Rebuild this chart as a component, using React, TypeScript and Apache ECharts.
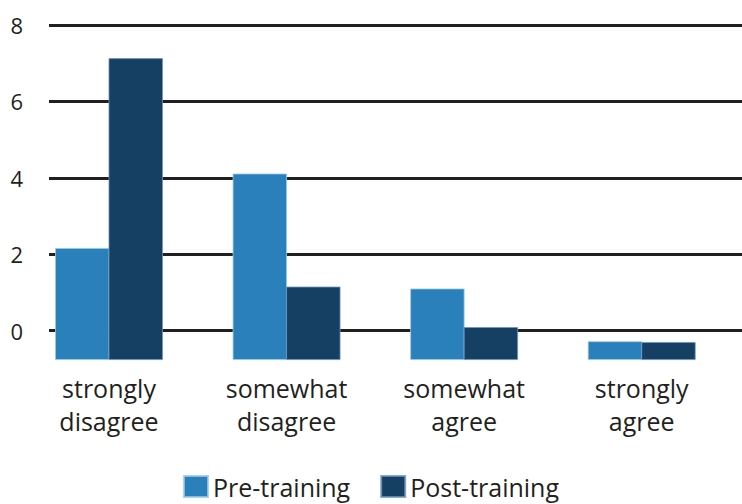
import React, { useEffect, useRef } from "react";
import * as echarts from "echarts";

const categories = ["strongly\ndisagree", "somewhat\ndisagree", "somewhat\nagree", "strongly\nagree"];
const preTraining = [2.15, 4.1, 1.09, -0.29];
const postTraining = [7.12, 1.14, 0.08, -0.31];
const gridTicks = [-2, 0, 2, 4, 6, 8];
const axisFloor = -0.76;

const FONT = "Open Sans";
const TEXT = "#231f20";
const BAR_W = 53.5;

function barSeries(name: string, values: number[], idx: number, color: string, border: string) {
  return {
    name,
    type: "custom",
    xAxisIndex: 1,
    yAxisIndex: 1,
    encode: { x: 0, y: 1 },
    data: values.map((v, i) => [i, v]),
    itemStyle: { color, borderColor: border, borderWidth: 1 },
    renderItem: (params: any, api: any) => {
      const cat = api.value(0);
      const v = api.value(1);
      const top = api.coord([cat, v]);
      const bottom = api.coord([cat, axisFloor]);
      const x = idx === 0 ? top[0] - BAR_W : top[0];
      return {
        type: "rect",
        shape: { x, y: top[1], width: BAR_W, height: bottom[1] - top[1] },
        style: api.style(),
      };
    },
  };
}

export default function App() {
  const ref = useRef<HTMLDivElement>(null);
  useEffect(() => {
    if (!ref.current) return;
    const chart = echarts.init(ref.current, null, { renderer: "svg" });
    chart.setOption({
      animation: false,
      textStyle: { fontFamily: FONT, color: TEXT },
      legend: {
        bottom: 0,
        left: "center",
        icon: "rect",
        itemWidth: 24,
        itemHeight: 21,
        itemGap: 30,
        textStyle: { fontSize: 25, color: TEXT, fontFamily: FONT },
        data: ["Pre-training", "Post-training"],
      },
      grid: [
        { left: 49, right: 0, top: 25, height: 382 },
        { left: 20.2, right: 11.5, top: 25, height: 334.6 },
      ],
      xAxis: [
        { gridIndex: 0, type: "category", data: categories, show: false },
        {
          gridIndex: 1,
          type: "category",
          data: categories,
          axisLine: { show: false },
          axisTick: { show: false },
          axisLabel: {
            fontSize: 25,
            lineHeight: 33,
            color: TEXT,
            fontFamily: FONT,
            margin: 12,
          },
        },
      ],
      yAxis: [
        {
          gridIndex: 0,
          type: "value",
          min: gridTicks[0],
          max: gridTicks[gridTicks.length - 1],
          interval: 2,
          axisLine: { show: false },
          axisTick: { show: false },
          axisLabel: {
            fontSize: 22,
            color: TEXT,
            fontFamily: FONT,
            margin: 26,
            formatter: (v: number) => (v < 0 ? "" : String(v)),
          },
          splitLine: {
            show: true,
            lineStyle: {
              width: 3,
              color: gridTicks.map((t) => (t < 0 ? "rgba(0,0,0,0)" : TEXT)),
            },
          },
        },
        {
          gridIndex: 1,
          type: "value",
          min: axisFloor,
          max: 8,
          show: false,
          splitLine: { show: false },
        },
      ],
      series: [
        barSeries("Pre-training", preTraining, 0, "#2980ba", "rgba(160,200,230,0.8)"),
        barSeries("Post-training", postTraining, 1, "#153f63", "rgba(110,150,190,0.8)"),
      ],
    });
    return () => chart.dispose();
  }, []);
  return <div ref={ref} style={{ width: 742, height: 504, position: "absolute", left: 0, top: 0 }} />;
}
